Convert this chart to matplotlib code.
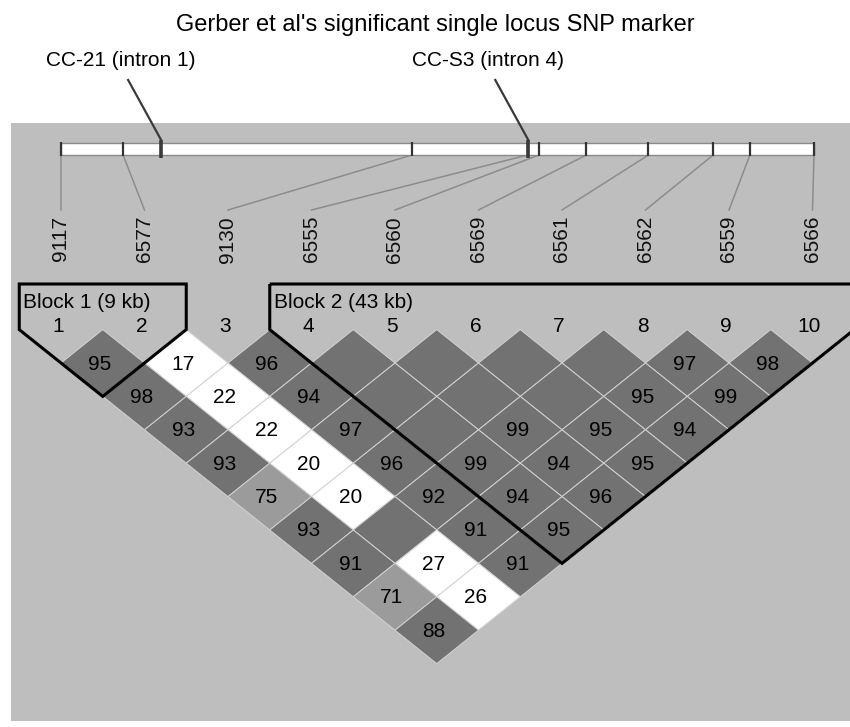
import matplotlib.pyplot as plt
from matplotlib.patches import Polygon, Rectangle

plt.rcParams['font.family'] = ['Liberation Sans', 'DejaVu Sans']

TITLE = "Gerber et al's significant single locus SNP marker"

# SNP markers in physical order, position along the region in kb
markers = ['9117', '6577', '9130', '6555', '6560',
           '6569', '6561', '6562', '6559', '6566']
marker_kb = [0.0, 9.3, 52.6, 69.9, 71.6, 78.7, 88.0, 97.7, 103.2, 112.8]

# previously reported single-locus markers
flagged = ['CC-21 (intron 1)', 'CC-S3 (intron 4)']
flagged_kb = [15.0, 70.0]

# pairwise D' (x100), one list per marker distance (1 = neighbours)
# 100 means complete LD and is drawn without a number
dprime_by_lag = [
    [95, 17, 96, 100, 100, 100, 100, 97, 98],
    [98, 22, 94, 100, 100, 100, 95, 99],
    [93, 22, 97, 100, 99, 95, 94],
    [93, 20, 96, 99, 94, 95],
    [75, 20, 92, 94, 96],
    [93, 100, 91, 95],
    [91, 27, 91],
    [71, 26],
    [88],
]

# haplotype blocks: first marker, last marker (1-based), label
blocks = [(1, 2, 'Block 1 (9 kb)'), (4, 10, 'Block 2 (43 kb)')]

# ---------------------------------------------------------------------------
# layout (pixel-like units, y grows downwards)
# ---------------------------------------------------------------------------
W_PX, H_PX = 850, 727
X0, DX = 61, 83.5          # first column, column spacing
HW, HH = DX / 2, 33.4      # diamond half width / half height
ROW1_Y = 363               # centre of the neighbour row
BAR_TOP, BAR_BOT = 143, 155
BAR_RIGHT = 814
BLOCK_TOP = 284

BG = '#bebebe'
DARK = '#727272'
MID = '#9b9b9b'
FS = 15


def col_x(k):
    return X0 + DX * k


def kb_x(kb):
    return X0 + (BAR_RIGHT - X0) * kb / marker_kb[-1]


def shade(v):
    if v < 50:
        return 'white'
    if v < 85:
        return MID
    return DARK


fig = plt.figure(figsize=(W_PX / 100, H_PX / 100), dpi=100)
ax = fig.add_axes([0, 0, 1, 1])
ax.set_xlim(0, W_PX)
ax.set_ylim(H_PX, 0)
ax.axis('off')

ax.text(435, 25, TITLE, ha='center', va='center', fontsize=17)

# grey panel
ax.add_patch(Rectangle((11, 123), W_PX - 11, 598, fc=BG, ec='none', zorder=0))

# marker map bar
ax.add_patch(Rectangle((X0, BAR_TOP), BAR_RIGHT - X0, BAR_BOT - BAR_TOP,
                       fc='white', ec='#8a8a8a', lw=1.0, zorder=2))
for k, (name, kb) in enumerate(zip(markers, marker_kb)):
    px = kb_x(kb)
    ax.plot([px, px], [BAR_TOP - 1, BAR_BOT + 1], color='#333333', lw=1.6,
            zorder=3, solid_capstyle='butt')
    ax.plot([px, col_x(k)], [BAR_BOT, 210], color='#8c8c8c', lw=1.1, zorder=1)
    ax.text(col_x(k), 216, name, rotation=90, ha='center', va='top',
            fontsize=FS, color='#111111')

for name, kb in zip(flagged, flagged_kb):
    px = kb_x(kb)
    ax.plot([px - 33, px], [80, 140], color='#3a3a3a', lw=1.6, zorder=3)
    ax.plot([px, px], [140, 158], color='#3a3a3a', lw=2.6, zorder=4,
            solid_capstyle='butt')
    ax.text(px - 40, 60, name, ha='center', va='center', fontsize=FS)

# LD diamonds
for lag, row in enumerate(dprime_by_lag, start=1):
    cy = ROW1_Y + (lag - 1) * HH
    for i, v in enumerate(row):
        cx = X0 + DX * (i + lag / 2)
        pts = [(cx, cy - HH), (cx + HW, cy), (cx, cy + HH), (cx - HW, cy)]
        ax.add_patch(Polygon(pts, closed=True, fc=shade(v), ec='#d2d2d2',
                             lw=0.7, zorder=2))
        if v < 100:
            ax.text(cx - 3, cy + 1, str(v), ha='center', va='center',
                    fontsize=FS, zorder=5)

# column numbers
for k in range(len(markers)):
    ax.text(col_x(k) - 3, 326, str(k + 1), ha='center', va='center',
            fontsize=FS, zorder=5)

# block outlines
shoulder = ROW1_Y - HH
for a, b, label in blocks:
    xa, xb = col_x(a - 1), col_x(b - 1)
    bottom = ROW1_Y + (b - a - 1) * HH + HH
    pts = [(xa - HW, BLOCK_TOP), (xb + HW, BLOCK_TOP), (xb + HW, shoulder),
           ((xa + xb) / 2, bottom), (xa - HW, shoulder)]
    ax.add_patch(Polygon(pts, closed=True, fill=False, ec='black', lw=2.2,
                         joinstyle='miter', zorder=6))
    ax.text(xa - HW + 4, 302, label, ha='left', va='center', fontsize=FS,
            zorder=6)

fig.savefig('out.png', dpi=100)
